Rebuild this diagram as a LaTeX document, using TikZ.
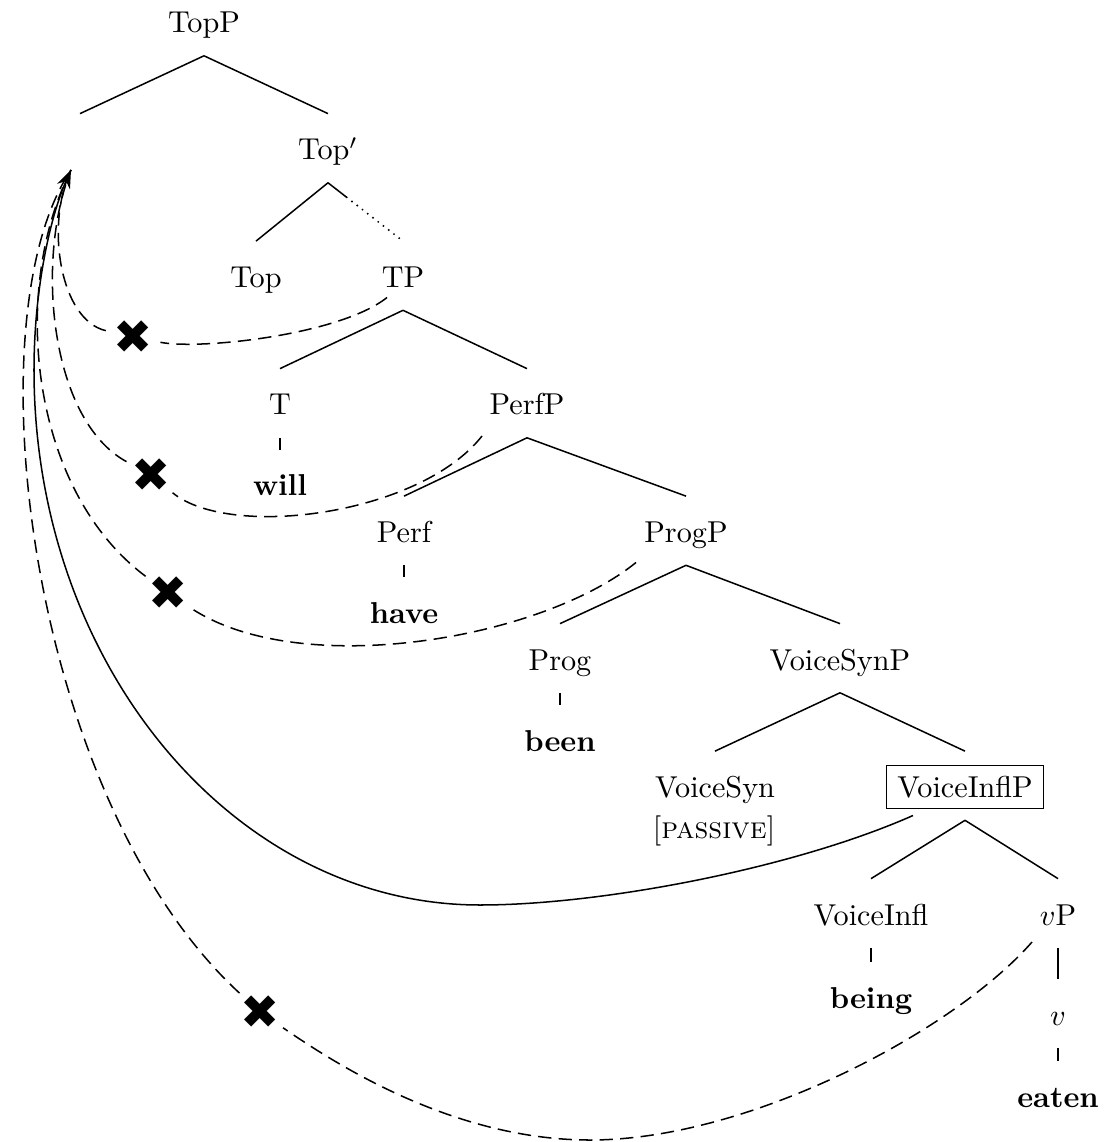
\documentclass[tikz,border=0pt]{standalone}
\usepackage{fontspec}
\newfontfamily\xmarkfont{DejaVu Sans}
\usetikzlibrary{calc,arrows.meta}
\setlength{\fboxsep}{3.3pt}
\begin{document}
\begin{tikzpicture}[x=0.3311pt,y=-0.3311pt,line width=0.5pt,
  tn/.style={anchor=base, inner xsep=3.33pt, inner ysep=7.3pt, text height=7.8pt, text depth=0pt},
  xm/.style={circle, inner sep=0pt, minimum size=18pt, font=\xmarkfont\fontsize{15.5}{15.5}\selectfont},
  mvdash/.style={dash pattern=on 4.4pt off 2.4pt},
  dotline/.style={line width=0.7pt, line cap=round, dash pattern=on 0pt off 2.2pt},
  arr/.style={-{Stealth[length=6pt,width=4.6pt,inset=2pt]}}]
\useasboundingbox (0,0) rectangle (1107,1142);
% tree nodes
\node[tn] (TopP) at (204,33) {TopP};
\node[tn] (spec) at (80,160) {};
\node[tn] (Topbar) at (328,160) {Top$'$};
\node[tn] (Top) at (256,287.5) {Top};
\node[tn] (TP) at (403,287.5) {TP};
\node[tn] (T) at (280,415) {T};
\node[tn] (PerfP) at (527,415) {PerfP};
\node[tn] (will) at (280,496) {\textbf{will}};
\node[tn] (Perf) at (404,542.5) {Perf};
\node[tn] (ProgP) at (686,542.5) {ProgP};
\node[tn] (have) at (404,623.5) {\textbf{have}};
\node[tn] (Prog) at (560,670) {Prog};
\node[tn] (VSP) at (840,670) {VoiceSynP};
\node[tn] (been) at (560,751) {\textbf{been}};
\node[tn] (VS) at (715,797.5) {VoiceSyn};
\node[tn] (pas) at (714,838) {[\textsc{passive}]};
\node[tn] (VIP) at (965,797.5) {\fbox{VoiceInflP}};
\node[tn] (VI) at (871,925) {VoiceInfl};
\node[tn] (vP) at (1058,925) {$v$P};
\node[tn] (being) at (871,1008) {\textbf{being}};
\node[tn] (v) at (1058,1025) {$v$};
\node[tn] (eaten) at (1058,1107) {\textbf{eaten}};
% edges
\draw (TopP.south) -- (spec.north);
\draw (TopP.south) -- (Topbar.north);
\draw (Topbar.south) -- (Top.north);
\draw (Topbar.south) -- ($(Topbar.south)!0.25!(TP.north)$) coordinate (dotstart);
\draw[dotline] (dotstart) -- (TP.north);
\draw (TP.south) -- (T.north);
\draw (TP.south) -- (PerfP.north);
\draw (T.south) -- (will.north);
\draw (PerfP.south) -- (Perf.north);
\draw (PerfP.south) -- (ProgP.north);
\draw (Perf.south) -- (have.north);
\draw (ProgP.south) -- (Prog.north);
\draw (ProgP.south) -- (VSP.north);
\draw (Prog.south) -- (been.north);
\draw (VSP.south) -- (VS.north);
\draw (VSP.south) -- (VIP.north);
\draw (VIP.south) -- (VI.north);
\draw (VIP.south) -- (vP.north);
\draw (VI.south) -- (being.north);
\draw (vP.south) -- (v.north);
\draw (v.south) -- (eaten.north);
% crosses and target
\node[xm] (x1) at (133,337) {✖};
\node[xm] (x2) at (151,475) {✖};
\node[xm] (x3) at (168,593) {✖};
\node[xm] (x4) at (260,1012) {✖};
\coordinate (tgt) at (71,170);
% movement curves
\draw[mvdash] ($(TP.base)+(-16,10)$) .. controls (340,335) and (200,350) .. (x1);
\draw[mvdash] (x1) .. controls (60,320) and (45,225) .. (tgt);
\draw[mvdash] ($(PerfP.base)+(-45,21)$) .. controls (420,515) and (230,540) .. (x2);
\draw[mvdash] (x2) .. controls (50,420) and (35,260) .. (tgt);
\draw[mvdash] ($(ProgP.base)+(-50,20)$) .. controls (540,640) and (300,680) .. (x3);
\draw[mvdash] (x3) .. controls (30,490) and (10,290) .. (tgt);
\draw[mvdash] ($(vP.base)+(-26,17)$) .. controls (955,1030) and (750,1140) .. (590,1140) .. controls (450,1140) and (330,1060) .. (x4);
\draw[mvdash] (x4) .. controls (30,800) and (-30,320) .. (tgt);
\draw[arr] ($(VIP.base)+(-52,18)$) .. controls (792,869) and (600,905) .. (480,905) .. controls (234,905) and (34,665) .. (34,370) .. controls (34,290) and (50,217) .. (tgt);
\end{tikzpicture}
\end{document}
